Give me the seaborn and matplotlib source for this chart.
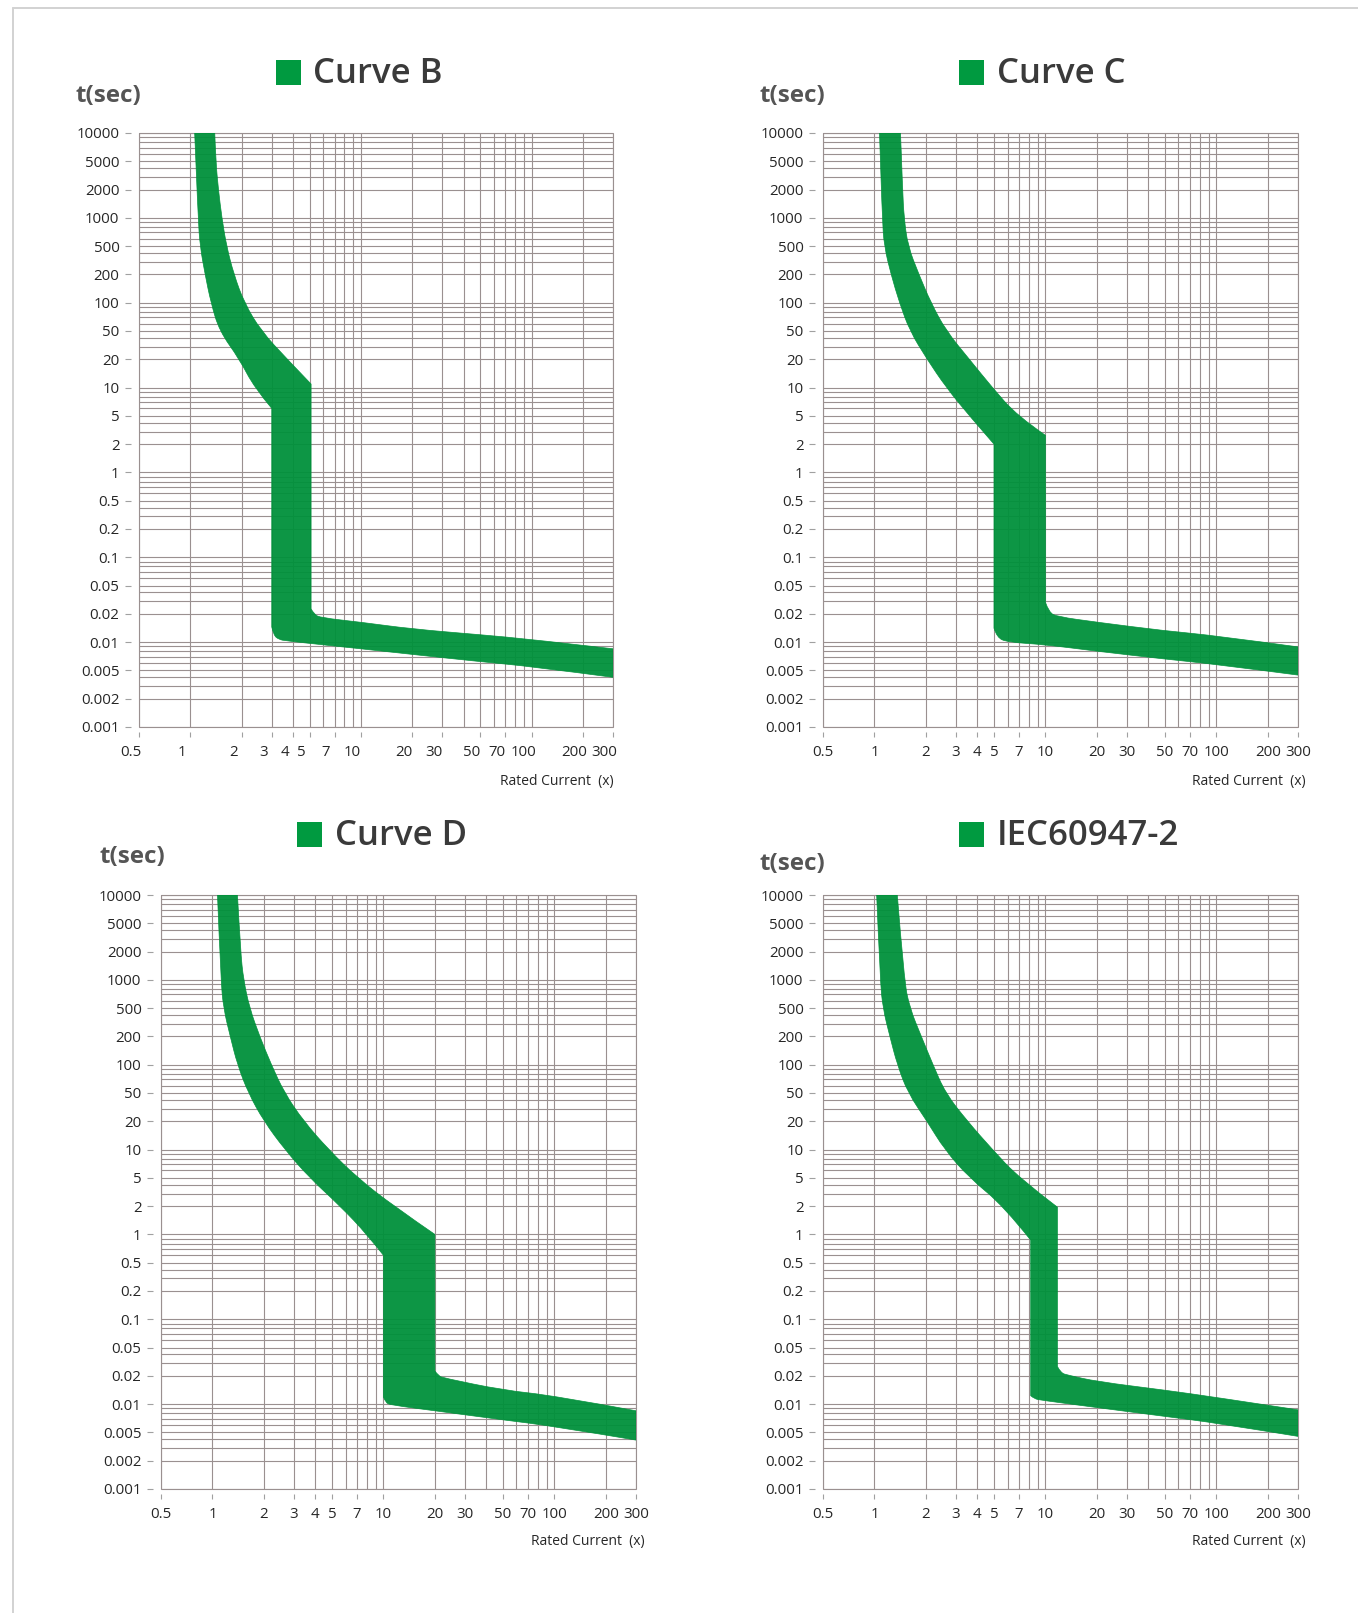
import numpy as np
import matplotlib
matplotlib.use("Agg")
import matplotlib.pyplot as plt
from matplotlib.patches import Rectangle, PathPatch
from matplotlib.path import Path
from matplotlib.lines import Line2D
from matplotlib.transforms import ScaledTranslation
import seaborn as sns

# ---- data ----
y_labels = [10000, 5000, 2000, 1000, 500, 200, 100, 50, 20, 10, 5, 2, 1,
            0.5, 0.2, 0.1, 0.05, 0.02, 0.01, 0.005, 0.002, 0.001]
y_label_text = ["10000", "5000", "2000", "1000", "500", "200", "100", "50", "20", "10", "5", "2", "1",
                "0.5", "0.2", "0.1", "0.05", "0.02", "0.01", "0.005", "0.002", "0.001"]
x_labels = [0.5, 1, 2, 3, 4, 5, 7, 10, 20, 30, 50, 70, 100, 200, 300]
x_label_text = ["0.5", "1", "2", "3", "4", "5", "7", "10", "20", "30", "50", "70", "100", "200", "300"]

titles = ["Curve B", "Curve C", "Curve D", "IEC60947-2"]

# band edges: (x = multiple of rated current, t = seconds), top -> bottom -> right end
b_left_x = [1.06, 1.11, 1.14, 1.22, 1.32, 1.48, 1.94, 2.37, 3.0, 3.0, 3.08, 3.3, 3.63, 10, 20, 50, 100, 300]
b_left_t = [10000, 1000, 500, 200, 100, 50, 20, 10, 6.0, 0.0145, 0.0118, 0.0107, 0.0103, 0.0085, 0.0074, 0.0062, 0.0055, 0.0040]
b_left_kinks = [8, 9]
b_right_x = [1.39, 1.41, 1.46, 1.53, 1.63, 1.80, 2.07, 2.6, 3.7, 5.1, 5.1, 5.3, 5.82, 10, 20, 50, 100, 300]
b_right_t = [10000, 5000, 2000, 1000, 500, 200, 100, 50, 20, 10.9, 0.0236, 0.0198, 0.0182, 0.0163, 0.0138, 0.0120, 0.0107, 0.0085]
b_right_kinks = [9, 10]

c_left_x = [1.07, 1.11, 1.14, 1.25, 1.40, 1.61, 2.03, 2.63, 3.59, 5.0, 5.0, 5.2, 6.0, 10, 20, 50, 100, 300]
c_left_t = [10000, 1000, 500, 200, 100, 50, 20, 10, 5, 2.0, 0.0141, 0.0112, 0.0100, 0.0094, 0.0080, 0.0066, 0.0058, 0.0043]
c_left_kinks = [9, 10]
c_right_x = [1.42, 1.46, 1.49, 1.57, 1.82, 2.14, 2.63, 3.59, 4.89, 6.84, 10, 10, 10.5, 11.7, 20, 50, 100, 300]
c_right_t = [10000, 2000, 1000, 500, 200, 100, 50, 20, 10, 5, 2.66, 0.029, 0.021, 0.0187, 0.0163, 0.0132, 0.0117, 0.0089]
c_right_kinks = [10, 11]

d_left_x = [1.07, 1.12, 1.16, 1.27, 1.40, 1.62, 2.0, 2.65, 3.70, 5.59, 8.02, 10, 10, 10.3, 11, 20, 50, 100, 300]
d_left_t = [10000, 1000, 500, 200, 100, 50, 20, 10, 5, 2, 1, 0.6, 0.0119, 0.0104, 0.0098, 0.0085, 0.0068, 0.0058, 0.0039]
d_left_kinks = [11, 12]
d_right_x = [1.40, 1.46, 1.52, 1.65, 1.89, 2.21, 2.64, 3.42, 4.78, 7.05, 11.5, 20, 20, 21, 22.5, 50, 100, 300]
d_right_t = [10000, 2000, 1000, 500, 200, 100, 50, 20, 10, 5, 2, 1.0, 0.0234, 0.020, 0.019, 0.0141, 0.0123, 0.0085]
d_right_kinks = [11, 12]

iec_left_x = [1.03, 1.08, 1.12, 1.23, 1.36, 1.57, 2.03, 2.57, 3.59, 5.7, 8.2, 8.2, 8.6, 9.5, 20, 50, 100, 300]
iec_left_t = [10000, 1000, 500, 200, 100, 50, 20, 10, 5, 2, 0.87, 0.0123, 0.0114, 0.0110, 0.0092, 0.0074, 0.0063, 0.0044]
iec_left_kinks = [10, 11]
iec_right_x = [1.36, 1.49, 1.61, 1.88, 2.20, 2.6, 3.5, 4.9, 7.0, 11.75, 11.75, 12.3, 13.5, 20, 50, 100, 300]
iec_right_t = [10000, 1000, 500, 200, 100, 50, 20, 10, 5, 1.95, 0.0271, 0.022, 0.0205, 0.0174, 0.0141, 0.0118, 0.0087]
iec_right_kinks = [9, 10]

bands = [(b_left_x, b_left_t, b_left_kinks, b_right_x, b_right_t, b_right_kinks),
         (c_left_x, c_left_t, c_left_kinks, c_right_x, c_right_t, c_right_kinks),
         (d_left_x, d_left_t, d_left_kinks, d_right_x, d_right_t, d_right_kinks),
         (iec_left_x, iec_left_t, iec_left_kinks, iec_right_x, iec_right_t, iec_right_kinks)]

# ---- style ----
GREEN = "#00913b"
GRID = "#9a9090"
W, H = 1358, 1613

sns.set_theme(style="white")
plt.rcParams["font.family"] = ["Open Sans", "DejaVu Sans"]

# y axis: every labelled value is one equal step (the paper is not true log)
_ylog = np.log10(np.array(y_labels[::-1], dtype=float))
_ypos = np.arange(len(y_labels), dtype=float)


def y_fwd(v):
    v = np.clip(np.asarray(v, dtype=float), 1e-12, None)
    return np.interp(np.log10(v), _ylog, _ypos)


def y_inv(p):
    return 10 ** np.interp(np.asarray(p, dtype=float), _ypos, _ylog)


def mid(p, q):
    # midpoint on the drawn paper (log x, stepped y)
    return (np.sqrt(p[0] * q[0]), float(y_inv((y_fwd(p[1]) + y_fwd(q[1])) / 2)))


def edge_path(xs, ts, kinks):
    # sharp corners at kinks, smooth quadratic curves in between
    pts = list(zip(xs, ts))
    cuts = [0] + sorted(kinks) + [len(pts) - 1]
    verts, codes = [], []
    for a, b in zip(cuts[:-1], cuts[1:]):
        run = pts[a:b + 1]
        if len(run) == 2:
            verts.append(run[1]); codes.append(Path.LINETO)
            continue
        for i in range(1, len(run) - 2):
            verts += [run[i], mid(run[i], run[i + 1])]
            codes += [Path.CURVE3, Path.CURVE3]
        verts += [run[-2], run[-1]]
        codes += [Path.CURVE3, Path.CURVE3]
    return verts, codes


def band_path(lx, lt, lk, rx, rt, rk):
    verts, codes = [(rx[0], rt[0])], [Path.MOVETO]
    v, c = edge_path(rx, rt, rk)
    verts += v; codes += c
    n = len(lx) - 1
    verts.append((lx[-1], lt[-1])); codes.append(Path.LINETO)
    v, c = edge_path(lx[::-1], lt[::-1], [n - k for k in lk])
    verts += v; codes += c
    verts.append((rx[0], rt[0])); codes.append(Path.CLOSEPOLY)
    return Path(verts, codes)


x_grid = [0.5] + [k * 10 ** n for n in range(0, 2) for k in range(1, 10)] + [100, 200, 300]
y_grid = [k * 10.0 ** n for n in range(-3, 4) for k in range(1, 10)] + [10000]

# panel layout in pixels: axes box (left, right, top, bottom), t(sec) pos, square, title x/y,
# x-label pos, shift of the x tick labels
panels = [
    dict(box=(139, 613, 133, 727), tsec=(75, 96), sq=(276, 60), tx=313, ty=74, xl=(614, 781), shift=-8.5),
    dict(box=(823, 1298, 133, 727), tsec=(760, 96), sq=(959, 60), tx=997, ty=74, xl=(1306, 781), shift=0),
    dict(box=(161, 636, 895, 1489), tsec=(99, 857), sq=(297, 822), tx=335, ty=836, xl=(645, 1541), shift=0),
    dict(box=(823, 1298, 895, 1489), tsec=(760, 864), sq=(959, 822), tx=997, ty=836, xl=(1306, 1541), shift=0),
]

fig = plt.figure(figsize=(W / 100, H / 100), dpi=100)
fig.patch.set_facecolor("white")

# light frame of the source sheet
fig.add_artist(Line2D([13 / W, 1], [1 - 7.5 / H, 1 - 7.5 / H], color="#d2d2d2", lw=1.4))
fig.add_artist(Line2D([13 / W, 13 / W], [0, 1 - 7.5 / H], color="#d2d2d2", lw=1.4))

for title, band, p in zip(titles, bands, panels):
    l, r, t, b = p["box"]
    ax = fig.add_axes([l / W, 1 - b / H, (r - l) / W, (b - t) / H])
    ax.set_xscale("log")
    ax.set_yscale("function", functions=(y_fwd, y_inv))
    ax.set_xlim(0.5, 300)
    ax.set_ylim(0.001, 10000)

    ax.add_patch(PathPatch(band_path(*band), facecolor=GREEN, edgecolor=GREEN,
                           lw=0.5, alpha=0.95, zorder=3))

    ax.set_xticks(x_labels, labels=x_label_text)
    ax.set_xticks(x_grid, minor=True)
    ax.set_yticks(y_labels, labels=y_label_text)
    ax.set_yticks(y_grid, minor=True)
    ax.set_xticklabels([], minor=True)
    ax.set_yticklabels([], minor=True)
    ax.set_xlim(0.5, 300)
    ax.set_ylim(0.001, 10000)

    ax.grid(True, which="both", color=GRID, lw=0.8, zorder=2)
    ax.set_axisbelow(True)
    sns.despine(ax=ax, offset={"left": 5.6, "bottom": 3.6})
    ax.spines["left"].set_color("none")
    ax.spines["bottom"].set_color("none")
    ax.patch.set_edgecolor(GRID)
    ax.patch.set_linewidth(0.8)

    ax.tick_params(axis="y", which="major", direction="out", length=4.5, width=0.8,
                   color="#a0a0a0", pad=4, labelsize=10.8, labelcolor="#262626", left=True)
    ax.tick_params(axis="x", which="major", direction="out", length=3.6, width=0.8,
                   color="#a0a0a0", pad=5.5, labelsize=10.8, labelcolor="#262626", bottom=True)
    ax.tick_params(which="minor", length=0)
    if p["shift"]:
        off = ScaledTranslation(p["shift"] / 100, 0, fig.dpi_scale_trans)
        for lab in ax.get_xticklabels():
            lab.set_transform(lab.get_transform() + off)

    fig.text(p["tsec"][0] / W, 1 - p["tsec"][1] / H, "t(sec)", ha="left", va="center",
             fontsize=17.5, fontweight="bold", color="#555555")
    sx, sy = p["sq"]
    fig.add_artist(Rectangle((sx / W, 1 - (sy + 24.7) / H), 24.7 / W, 24.7 / H,
                             transform=fig.transFigure, color="#009a40", lw=0))
    fig.text(p["tx"] / W, 1 - p["ty"] / H, title, ha="left", va="center",
             fontsize=25, fontweight="semibold", color="#3a3a3a")
    fig.text(p["xl"][0] / W, 1 - p["xl"][1] / H, "Rated Current  (x)", ha="right", va="center",
             fontsize=10, color="#262626")

fig.savefig("out.png", dpi=100, facecolor="white")
